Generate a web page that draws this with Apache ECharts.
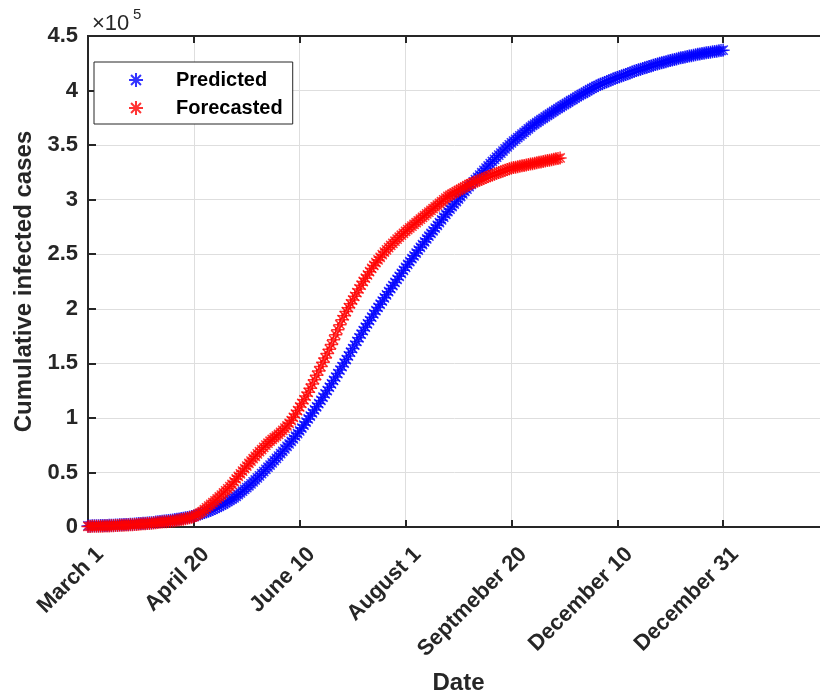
<!DOCTYPE html>
<html>
<head>
<meta charset="utf-8">
<script src="https://cdn.jsdelivr.net/npm/echarts@6/dist/echarts.min.js"></script>
<style>
  html, body { margin: 0; padding: 0; background: #fff; }
  #chart { width: 820px; height: 697px; }
</style>
</head>
<body>
<div id="chart"></div>
<script>
// one value per day, starting March 1 (day 0); units of 10^5 cases
var predicted = [
    0.010, 0.010, 0.011, 0.011, 0.012, 0.012, 0.013, 0.013, 0.014, 0.014,
    0.015, 0.016, 0.017, 0.018, 0.019, 0.020, 0.021, 0.022, 0.023, 0.024,
    0.025, 0.026, 0.028, 0.029, 0.031, 0.032, 0.034, 0.035, 0.037, 0.038,
    0.040, 0.042, 0.045, 0.047, 0.050, 0.052, 0.055, 0.057, 0.060, 0.062,
    0.065, 0.068, 0.071, 0.074, 0.078, 0.081, 0.085, 0.088, 0.092, 0.096,
    0.100, 0.106, 0.112, 0.118, 0.125, 0.132, 0.139, 0.146, 0.154, 0.162,
    0.170, 0.180, 0.190, 0.200, 0.210, 0.221, 0.232, 0.243, 0.255, 0.267,
    0.280, 0.296, 0.312, 0.328, 0.345, 0.361, 0.378, 0.395, 0.413, 0.431,
    0.450, 0.469, 0.489, 0.508, 0.528, 0.548, 0.568, 0.588, 0.609, 0.629,
    0.650, 0.672, 0.694, 0.716, 0.739, 0.761, 0.784, 0.808, 0.832, 0.856,
    0.880, 0.907, 0.934, 0.962, 0.990, 1.017, 1.045, 1.073, 1.102, 1.131,
    1.160, 1.190, 1.220, 1.250, 1.281, 1.312, 1.343, 1.374, 1.406, 1.438,
    1.470, 1.502, 1.535, 1.568, 1.602, 1.635, 1.668, 1.701, 1.734, 1.767,
    1.800, 1.831, 1.862, 1.892, 1.923, 1.953, 1.983, 2.012, 2.042, 2.071,
    2.100, 2.128, 2.157, 2.185, 2.213, 2.241, 2.269, 2.297, 2.325, 2.352,
    2.380, 2.406, 2.433, 2.459, 2.485, 2.511, 2.537, 2.563, 2.589, 2.614,
    2.640, 2.665, 2.690, 2.715, 2.740, 2.765, 2.790, 2.815, 2.840, 2.865,
    2.890, 2.913, 2.937, 2.960, 2.983, 3.006, 3.029, 3.052, 3.075, 3.097,
    3.120, 3.141, 3.163, 3.184, 3.205, 3.226, 3.247, 3.268, 3.289, 3.309,
    3.330, 3.350, 3.369, 3.389, 3.408, 3.427, 3.446, 3.465, 3.483, 3.502,
    3.520, 3.537, 3.553, 3.569, 3.585, 3.601, 3.617, 3.633, 3.649, 3.664,
    3.680, 3.693, 3.707, 3.720, 3.733, 3.746, 3.759, 3.772, 3.785, 3.797,
    3.810, 3.822, 3.835, 3.847, 3.859, 3.871, 3.883, 3.895, 3.907, 3.918,
    3.930, 3.941, 3.953, 3.964, 3.975, 3.986, 3.997, 4.008, 4.019, 4.029,
    4.040, 4.048, 4.057, 4.065, 4.073, 4.081, 4.089, 4.097, 4.105, 4.112,
    4.120, 4.127, 4.134, 4.141, 4.148, 4.155, 4.162, 4.169, 4.176, 4.183,
    4.190, 4.196, 4.202, 4.208, 4.214, 4.220, 4.226, 4.232, 4.238, 4.244,
    4.250, 4.255, 4.260, 4.265, 4.270, 4.275, 4.280, 4.285, 4.290, 4.295,
    4.300, 4.304, 4.308, 4.312, 4.316, 4.320, 4.324, 4.328, 4.332, 4.336,
    4.340, 4.343, 4.346, 4.349, 4.352, 4.355, 4.358, 4.361, 4.364, 4.367,
    4.370
];

var forecasted = [
    0.005, 0.005, 0.006, 0.006, 0.007, 0.007, 0.008, 0.008, 0.009, 0.009,
    0.010, 0.011, 0.012, 0.013, 0.014, 0.015, 0.016, 0.017, 0.018, 0.019,
    0.020, 0.021, 0.023, 0.024, 0.026, 0.027, 0.029, 0.030, 0.032, 0.033,
    0.035, 0.037, 0.039, 0.041, 0.043, 0.045, 0.047, 0.049, 0.051, 0.053,
    0.055, 0.058, 0.061, 0.064, 0.068, 0.072, 0.076, 0.080, 0.085, 0.090,
    0.095, 0.106, 0.118, 0.130, 0.142, 0.159, 0.176, 0.192, 0.208, 0.224,
    0.240, 0.257, 0.275, 0.293, 0.312, 0.331, 0.350, 0.370, 0.390, 0.415,
    0.440, 0.464, 0.488, 0.512, 0.536, 0.559, 0.582, 0.604, 0.626, 0.648,
    0.670, 0.690, 0.710, 0.730, 0.750, 0.768, 0.786, 0.802, 0.818, 0.834,
    0.850, 0.868, 0.886, 0.906, 0.926, 0.950, 0.975, 1.005, 1.035, 1.067,
    1.100, 1.133, 1.166, 1.200, 1.234, 1.272, 1.310, 1.350, 1.390, 1.430,
    1.470, 1.510, 1.550, 1.590, 1.630, 1.672, 1.715, 1.762, 1.808, 1.854,
    1.900, 1.937, 1.974, 2.010, 2.046, 2.080, 2.114, 2.148, 2.182, 2.216,
    2.250, 2.280, 2.310, 2.340, 2.370, 2.397, 2.424, 2.448, 2.472, 2.496,
    2.520, 2.540, 2.560, 2.580, 2.600, 2.619, 2.638, 2.656, 2.674, 2.692,
    2.710, 2.726, 2.742, 2.758, 2.774, 2.790, 2.806, 2.822, 2.838, 2.854,
    2.870, 2.886, 2.902, 2.918, 2.934, 2.950, 2.966, 2.982, 2.998, 3.014,
    3.030, 3.041, 3.052, 3.063, 3.074, 3.085, 3.096, 3.107, 3.118, 3.129,
    3.140, 3.148, 3.156, 3.164, 3.172, 3.180, 3.188, 3.196, 3.204, 3.212,
    3.220, 3.227, 3.234, 3.241, 3.248, 3.255, 3.262, 3.269, 3.276, 3.283,
    3.290, 3.294, 3.298, 3.302, 3.306, 3.310, 3.314, 3.318, 3.322, 3.326,
    3.330, 3.334, 3.338, 3.342, 3.346, 3.350, 3.354, 3.358, 3.362, 3.366,
    3.370, 3.374, 3.378, 3.382
];

// x tick labels, one every 50 days
var tickLabels = ['March 1', 'April 20', 'June 10', 'August 1',
                  'Septmeber 20', 'December 10', 'December 31', ''];

var FONT = '"Liberation Sans", Arial, Helvetica, sans-serif';
var INK = '#262626';
var star = 'path://M10,0L10,20M0,10L20,10M2.93,2.93L17.07,17.07M2.93,17.07L17.07,2.93';

function toPoints(values) {
    return values.map(function (v, day) { return [day, v]; });
}

var chart = echarts.init(document.getElementById('chart'), null, {renderer: 'canvas'});

var option = {
    animation: false,
    backgroundColor: '#fff',
    grid: {
        left: 88,
        top: 36,
        width: 741,
        height: 491,
        outerBoundsMode: 'none',
        containLabel: false,
        show: true,
        borderColor: INK,
        borderWidth: 2,
        backgroundColor: 'transparent'
    },
    legend: {
        orient: 'vertical',
        left: 94,
        top: 62,
        padding: [8, 10, 6, 34],
        itemGap: 8,
        itemWidth: 14,
        itemHeight: 14,
        backgroundColor: '#fff',
        borderColor: INK,
        borderWidth: 1,
        textStyle: {
            fontFamily: FONT,
            fontWeight: 'bold',
            fontSize: 20,
            color: '#000',
            padding: [0, 0, 0, 28]
        },
        data: ['Predicted', 'Forecasted']
    },
    graphic: [
        {type: 'text', left: 92, top: 13,
         style: {text: '\u00d710', font: '22px ' + FONT, fill: INK}},
        {type: 'text', left: 133, top: 7,
         style: {text: '5', font: '15px ' + FONT, fill: INK}}
    ],
    xAxis: [
        {
            type: 'value',
            min: 0,
            max: 350,
            interval: 50,
            name: 'Date',
            nameLocation: 'middle',
            nameGap: 144,
            nameTextStyle: {fontFamily: FONT, fontWeight: 'bold', fontSize: 24, color: INK},
            axisLine: {lineStyle: {color: INK, width: 2}},
            axisTick: {inside: true, length: 7, lineStyle: {color: INK, width: 2}},
            axisLabel: {
                rotate: 45,
                margin: 36,
                padding: [0, -17, 0, 0],
                fontFamily: FONT,
                fontWeight: 'bold',
                fontSize: 22,
                color: INK,
                formatter: function (v) { return tickLabels[Math.round(v / 50)] || ''; }
            },
            splitLine: {show: true, lineStyle: {color: '#dedede', width: 1}}
        },
        {
            type: 'value',
            position: 'top',
            min: 0,
            max: 350,
            interval: 50,
            axisLine: {show: true, lineStyle: {color: INK, width: 2}},
            axisTick: {inside: true, length: 7, lineStyle: {color: INK, width: 2}},
            axisLabel: {show: false},
            splitLine: {show: false}
        }
    ],
    yAxis: {
        type: 'value',
        min: 0,
        max: 4.5,
        interval: 0.5,
        name: 'Cumulative infected cases',
        nameLocation: 'middle',
        nameGap: 52,
        nameTextStyle: {fontFamily: FONT, fontWeight: 'bold', fontSize: 24, color: INK},
        axisLine: {show: true, lineStyle: {color: INK, width: 2}},
        axisTick: {show: true, inside: true, length: 8, lineStyle: {color: INK, width: 2}},
        axisLabel: {
            margin: 10,
            fontFamily: FONT,
            fontWeight: 'bold',
            fontSize: 22,
            color: INK
        },
        splitLine: {show: true, lineStyle: {color: '#dedede', width: 1}}
    },
    series: [
        {
            name: 'Predicted',
            type: 'scatter',
            symbol: star,
            symbolSize: 13,
            symbolKeepAspect: true,
            itemStyle: {color: '#0000ff', borderColor: '#0000ff', borderWidth: 1.5},
            data: toPoints(predicted)
        },
        {
            name: 'Forecasted',
            type: 'scatter',
            symbol: star,
            symbolSize: 13,
            symbolKeepAspect: true,
            itemStyle: {color: '#ff0000', borderColor: '#ff0000', borderWidth: 1.5},
            data: toPoints(forecasted)
        }
    ]
};

chart.setOption(option);
</script>
</body>
</html>
